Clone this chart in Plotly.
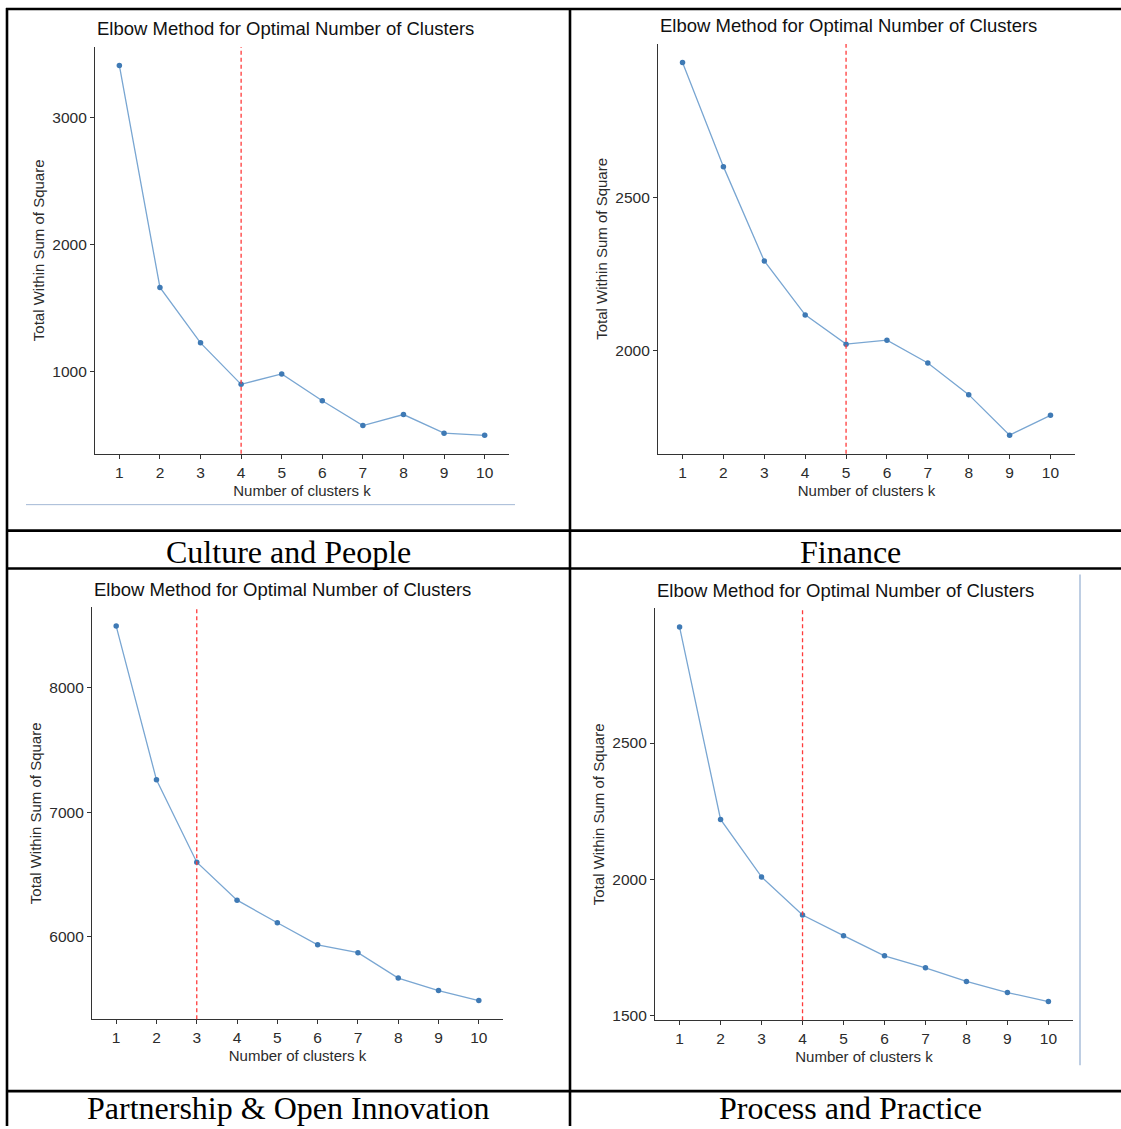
import plotly.graph_objects as go

W, H = 1121, 1129

k_values = [1, 2, 3, 4, 5, 6, 7, 8, 9, 10]
k_ticks = ["1", "2", "3", "4", "5", "6", "7", "8", "9", "10"]

culture_wss = [3406, 1662, 1227, 901, 983, 772, 577, 664, 518, 501]
finance_wss = [2945, 2603, 2293, 2116, 2020, 2033, 1958, 1854, 1721, 1786]
partnership_wss = [8489, 7258, 6599, 6295, 6114, 5937, 5874, 5671, 5571, 5491]
process_wss = [2926, 2219, 2008, 1868, 1792, 1718, 1674, 1624, 1583, 1550]

culture_ticks = [1000, 2000, 3000]
finance_ticks = [2000, 2500]
partnership_ticks = [6000, 7000, 8000]
process_ticks = [1500, 2000, 2500]

optimal_k = [4, 5, 3, 4]
captions = ["Culture and People", "Finance", "Partnership & Open Innovation", "Process and Practice"]
chart_title = "Elbow Method for Optimal Number of Clusters"
x_title = "Number of clusters k"
y_title = "Total Within Sum of Square"

series = [culture_wss, finance_wss, partnership_wss, process_wss]
yticks = [culture_ticks, finance_ticks, partnership_ticks, process_ticks]

# plot areas in pixels: (left, right, top, bottom)
boxes = [(95, 509, 47, 455), (658, 1075, 44, 455), (92, 503, 609, 1022), (655, 1073, 610, 1023)]
caption_pos = [(288, 553), (850, 553), (288, 1111), (850, 1111)]


def px(x):
    return x / W


def py(y):
    return 1 - y / H


fig = go.Figure()
layout = dict(
    width=W, height=H, margin=dict(l=0, r=0, t=0, b=0),
    paper_bgcolor="white", plot_bgcolor="white", showlegend=False,
    font=dict(family="Liberation Sans, Arial, sans-serif", color="#222"),
)
shapes = []
annotations = []

for i, (vals, ticks, box) in enumerate(zip(series, yticks, boxes)):
    n = "" if i == 0 else str(i + 1)
    xa, ya = "x" + n, "y" + n
    fig.add_trace(go.Scatter(
        x=k_values, y=vals, xaxis=xa, yaxis=ya, mode="lines+markers",
        line=dict(color="#79A6D2", width=1.3),
        marker=dict(color="#3F7AB5", size=5.5),
        hoverinfo="x+y",
    ))
    lo, hi = min(vals), max(vals)
    pad = (hi - lo) * 0.05
    l, r, t, b = box
    axis_common = dict(
        showgrid=False, zeroline=False, showline=True, linecolor="#333",
        linewidth=1.3, ticks="outside", ticklen=4, tickcolor="#333", tickwidth=1,
        tickfont=dict(size=15.5, color="#2b2b2b"),
    )
    layout["xaxis" + n] = dict(
        domain=[px(l), px(r)], anchor=ya, range=[0.4, 10.6],
        tickvals=k_values, ticktext=k_ticks,
        title=dict(text=x_title, font=dict(size=15, color="#2b2b2b"), standoff=5),
        **axis_common,
    )
    layout["yaxis" + n] = dict(
        domain=[py(b), py(t)], anchor=xa, range=[lo - pad, hi + pad],
        tickvals=ticks,
        title=dict(text=y_title, font=dict(size=15, color="#2b2b2b"), standoff=4),
        **axis_common,
    )
    shapes.append(dict(
        type="line", xref=xa, yref=ya + " domain", x0=optimal_k[i], x1=optimal_k[i],
        y0=0, y1=1, line=dict(color="#FF3B3B", width=1.3, dash="4px,3px"),
    ))
    annotations.append(dict(
        text=chart_title, xref="paper", yref="paper", x=px(l), y=py(t - 18),
        xanchor="left", yanchor="middle", showarrow=False,
        font=dict(size=18.5, color="#111"),
    ))
    cx, cy = caption_pos[i]
    annotations.append(dict(
        text=captions[i], xref="paper", yref="paper", x=px(cx), y=py(cy),
        xanchor="center", yanchor="middle", showarrow=False,
        font=dict(family="Liberation Serif, Times New Roman, serif", size=32, color="black"),
    ))

# table rules
black = dict(color="black", width=2.6)
for y in [9, 532, 570, 1094]:
    shapes.append(dict(type="line", xref="paper", yref="paper", x0=px(6), x1=1,
                       y0=py(y), y1=py(y), line=black))
for x in [7, 570]:
    shapes.append(dict(type="line", xref="paper", yref="paper", x0=px(x), x1=px(x),
                       y0=py(8), y1=0, line=black))

# stray light-blue rules present in the pasted images
shapes.append(dict(type="line", xref="paper", yref="paper", x0=px(26), x1=px(515),
                   y0=py(506), y1=py(506), line=dict(color="#A3B8D6", width=1)))
shapes.append(dict(type="line", xref="paper", yref="paper", x0=px(1080), x1=px(1080),
                   y0=py(576), y1=py(1068), line=dict(color="#A9BEDA", width=1.5)))

layout["shapes"] = shapes
layout["annotations"] = annotations
fig.update_layout(**layout)
fig.write_html("out.html", config={"displayModeBar": False},
               post_script="document.body.style.margin='0';document.body.style.overflow='hidden';")
